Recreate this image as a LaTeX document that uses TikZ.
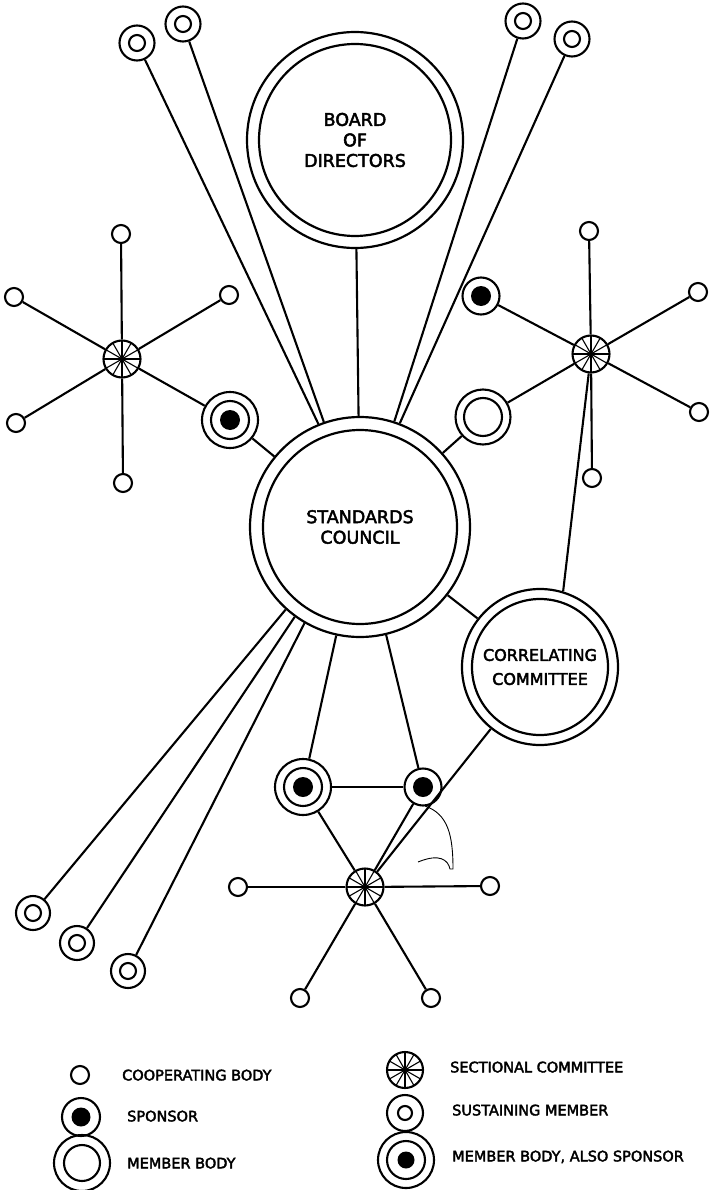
\documentclass[tikz,border=0pt]{standalone}
\usepackage{fontspec}
\setmainfont[FakeBold=2.6]{DejaVu Sans}
\begin{document}
\tikzset{
 base/.style={circle,draw,line width=2.1pt,inner sep=0pt},
 coop/.style={base,minimum size=18pt},
 sust/.style={base,minimum size=35pt,path picture={\draw[line width=2.1pt] (path picture bounding box.center) circle[radius=8pt];}},
 spons/.style={base,minimum size=37pt,path picture={\fill (path picture bounding box.center) circle[radius=10pt];}},
 memb/.style={base,minimum size=55pt,path picture={\draw[line width=2.1pt] (path picture bounding box.center) circle[radius=19pt];}},
 mbas/.style={base,minimum size=56pt,path picture={\draw[line width=2.1pt] (path picture bounding box.center) circle[radius=19pt]; \fill (path picture bounding box.center) circle[radius=10pt];}},
 sect/.style={base,minimum size=37pt,path picture={\foreach \a in {0,30,...,330}{\draw[line width=1.1pt] (path picture bounding box.center) -- ++(\a:20pt);} \fill (path picture bounding box.center) circle[radius=2.2pt];}},
 big/.style={base,line width=2.2pt,path picture={\draw[line width=2.2pt] (path picture bounding box.center) circle[radius=#1];}},
 link/.style={line width=2.1pt},
 lbl/.style={font=\fontsize{17.5}{20.5}\selectfont,align=center},
 leg/.style={font=\fontsize{14.5}{17}\selectfont,anchor=west,inner sep=0pt,text depth=0pt},
}
\begin{tikzpicture}[x=1pt,y=-1pt]
\useasboundingbox (0,0) rectangle (710,1190);
% main bodies
\node[big=96pt,minimum size=216pt,lbl] (bd) at (355,140) {BOARD\\OF\\DIRECTORS};
\node[big=97pt,minimum size=220pt,lbl] (sc) at (360,527) {STANDARDS\\COUNCIL};
\node[big=68pt,minimum size=156pt,lbl,font=\fontsize{16}{24}\selectfont] (cc) at (540,667) {CORRELATING\\COMMITTEE};
% top sustaining members
\node[sust] (s1) at (137,43) {};
\node[sust] (s2) at (183,24) {};
\node[sust] (s3) at (523,21) {};
\node[sust] (s4) at (572,39) {};
% left star
\node[sect] (ls) at (122,359) {};
\node[coop] (lc1) at (121,234) {};
\node[coop] (lc2) at (14,297) {};
\node[coop] (lc3) at (229,295) {};
\node[coop] (lc4) at (16,423) {};
\node[coop] (lc5) at (123,483) {};
\node[mbas] (lmb) at (230,420) {};
% right star
\node[sect] (rs) at (591,354) {};
\node[coop] (rc1) at (589,231) {};
\node[coop] (rc2) at (698,292) {};
\node[coop] (rc3) at (699,412) {};
\node[coop] (rc4) at (592,478) {};
\node[spons] (rsp) at (481,296) {};
\node[memb] (rmb) at (483,417) {};
% bottom star
\node[sect] (bs) at (365,887) {};
\node[coop] (bc1) at (238,887) {};
\node[coop] (bc2) at (490,886) {};
\node[coop] (bc3) at (300,998) {};
\node[coop] (bc4) at (431,998) {};
\node[mbas] (bmb) at (303,787) {};
\node[spons] (bsp) at (423,787) {};
% bottom-left sustaining members
\node[sust,minimum size=34pt] (b1) at (33,913) {};
\node[sust,minimum size=34pt] (b2) at (77,943) {};
\node[sust,minimum size=34pt] (b3) at (128,971) {};
% connectors
\draw[link] (s1) -- (sc.112);
\draw[link] (s2) -- (sc.109);
\draw[link] (s3) -- (sc.72);
\draw[link] (s4) -- (sc.69);
\draw[link] (bd) -- (sc);
\foreach \n in {lc1,lc2,lc3,lc4,lc5,lmb} \draw[link] (ls) -- (\n);
\draw[link] (lmb) -- (sc);
\foreach \n in {rc1,rc2,rc3,rc4,rsp,rmb} \draw[link] (rs) -- (\n);
\draw[link] (rmb) -- (sc);
\draw[link] (rs) -- (cc.73);
\draw[link] (sc) -- (cc);
\draw[link] (sc.228) -- (b1);
\draw[link] (sc.234) -- (b2);
\draw[link] (sc.240) -- (b3);
\draw[link] (sc) -- (bmb);
\draw[link] (sc) -- (bsp);
\draw[link] (bmb) -- (bsp);
\draw[link] (bmb) -- (bs);
\draw[link] (bsp) -- (bs);
\draw[link] (cc) -- (bs);
\foreach \n in {bc1,bc2,bc3,bc4} \draw[link] (bs) -- (\n);
% stray pen stroke
\draw[line width=0.9pt] (425,806) .. controls (448,814) and (453,835) .. (453,869) -- (450,869) .. controls (448,860) and (440,853) .. (418,862);
% legend
\node[coop] (k1) at (80,1075) {};
\node[leg] (t1) at (122,1075) {COOPERATING BODY};
\node[spons,minimum size=38pt,path picture={\fill (path picture bounding box.center) circle[radius=9.5pt];}] (k2) at (81,1117) {};
\node[leg] (t2) at (127,1116) {SPONSOR};
\node[memb,minimum size=56pt,path picture={\draw[line width=2.1pt] (path picture bounding box.center) circle[radius=18pt];}] (k3) at (82,1163) {};
\node[leg] (t3) at (127,1163) {MEMBER BODY};
\node[sect,minimum size=36pt] (k4) at (405,1070) {};
\node[leg] (t4) at (450,1067) {SECTIONAL COMMITTEE};
\node[sust,minimum size=36pt,path picture={\draw[line width=2.1pt] (path picture bounding box.center) circle[radius=7pt];}] (k5) at (405,1113) {};
\node[leg] (t5) at (452,1110) {SUSTAINING MEMBER};
\node[mbas,minimum size=56pt,path picture={\draw[line width=2.1pt] (path picture bounding box.center) circle[radius=19pt]; \fill (path picture bounding box.center) circle[radius=8.5pt];}] (k6) at (406,1160) {};
\node[leg] (t6) at (452,1156) {MEMBER BODY, ALSO SPONSOR};
\end{tikzpicture}
\end{document}
